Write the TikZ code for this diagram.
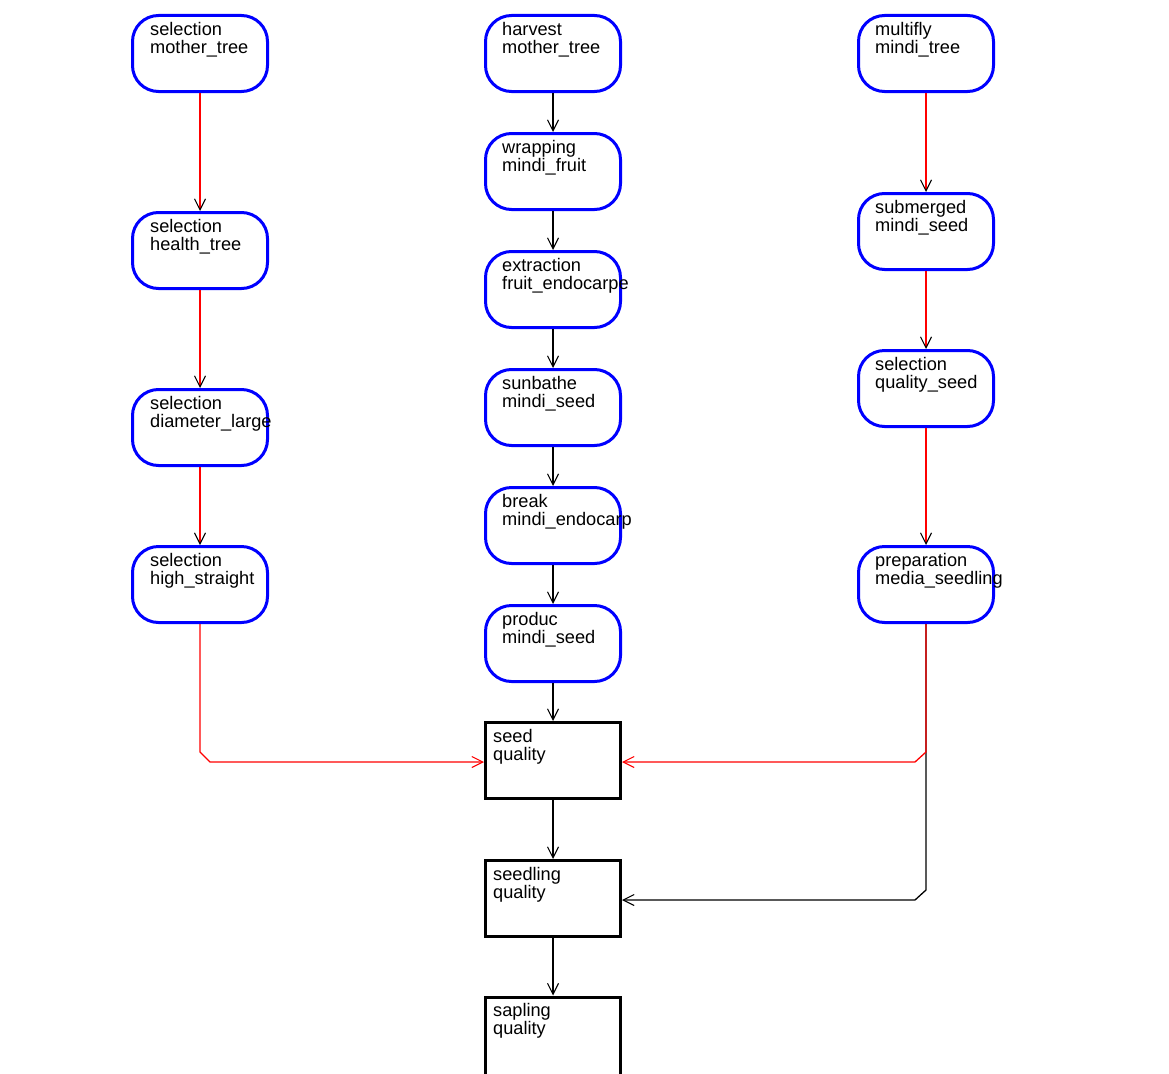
\documentclass[tikz,border=0pt]{standalone}
\usepackage{fontspec}
\setmainfont{Liberation Sans}
\usetikzlibrary{arrows.meta,calc}
\begin{document}
\begin{tikzpicture}[x=1pt,y=-1pt,
  rbox/.style={draw=blue, line width=3pt, rounded corners=26pt, minimum width=135pt, minimum height=76pt, inner sep=0pt},
  qbox/.style={draw=black, line width=3pt, minimum width=135pt, minimum height=76pt, inner sep=0pt},
  lbl/.style={anchor=north west, align=left, inner sep=0pt, font=\fontsize{18.2}{18}\selectfont},
  blk/.style={draw=black, line width=1.3pt, -{Straight Barb[length=11pt,width=11pt,line width=1.1pt]}},
  redv/.style={draw=red, line width=1.3pt, -{Straight Barb[length=11pt,width=11pt,line width=1.1pt,color=black]}},
  redh/.style={draw=red, line width=1.3pt, -{Straight Barb[length=11pt,width=11pt,line width=1.1pt]}}
]
\useasboundingbox (0,0) rectangle (1169,1073);
\fill[white] (0,0) rectangle (1169,1073);
\clip (0,0) rectangle (1169,1073);

% left column
\node[rbox] (L1) at (200,53.5) {};
\node[rbox] (L2) at (200,250.5) {};
\node[rbox] (L3) at (200,427.5) {};
\node[rbox] (L4) at (200,584.5) {};
% middle column
\node[rbox] (M1) at (553,53.5) {};
\node[rbox] (M2) at (553,171.5) {};
\node[rbox] (M3) at (553,289.5) {};
\node[rbox] (M4) at (553,407.5) {};
\node[rbox] (M5) at (553,525.5) {};
\node[rbox] (M6) at (553,643.5) {};
% right column
\node[rbox] (R1) at (926,53.5) {};
\node[rbox] (R2) at (926,231.5) {};
\node[rbox] (R3) at (926,388.5) {};
\node[rbox] (R4) at (926,584.5) {};
% quality boxes
\node[qbox] (Q1) at (553,760.5) {};
\node[qbox] (Q2) at (553,898.5) {};
\node[qbox, minimum height=90pt] (Q3) at (553,1042) {};

% coordinates for bends
\coordinate (lb) at (L4.south |- 0,752);
\coordinate (rb) at (R4.south |- 0,752);
\coordinate (rb2) at (R4.south |- 0,890);

% connectors
\draw[redv] (L1.south) -- (L2.north);
\draw[redv] (L2.south) -- (L3.north);
\draw[redv] (L3.south) -- (L4.north);
\draw[redv] (R1.south) -- (R2.north);
\draw[redv] (R2.south) -- (R3.north);
\draw[redv] (R3.south) -- (R4.north);
\draw[blk] (M1.south) -- (M2.north);
\draw[blk] (M2.south) -- (M3.north);
\draw[blk] (M3.south) -- (M4.north);
\draw[blk] (M4.south) -- (M5.north);
\draw[blk] (M5.south) -- (M6.north);
\draw[blk] (M6.south) -- (Q1.north);
\draw[blk] (Q1.south) -- (Q2.north);
\draw[blk] (Q2.south) -- (Q3.north);
\draw[blk] (R4.south) -- (rb2) -- ++(-11,10) -- (Q2.east |- 0,900);
\draw[redh] (L4.south) -- (lb) -- ++(10,10) -- (Q1.west |- 0,762);
\draw[redh] (R4.south) -- (rb) -- ++(-11,10) -- (Q1.east |- 0,762);

% labels
\node[lbl] (tL1) at ($(L1.north west)+(19,8)$) {selection\\mother\_tree};
\node[lbl] (tL2) at ($(L2.north west)+(19,8)$) {selection\\health\_tree};
\node[lbl] (tL3) at ($(L3.north west)+(19,8)$) {selection\\diameter\_large};
\node[lbl] (tL4) at ($(L4.north west)+(19,8)$) {selection\\high\_straight};
\node[lbl] (tM1) at ($(M1.north west)+(18,8)$) {harvest\\mother\_tree};
\node[lbl] (tM2) at ($(M2.north west)+(18,8)$) {wrapping\\mindi\_fruit};
\node[lbl] (tM3) at ($(M3.north west)+(18,8)$) {extraction\\fruit\_endocarpe};
\node[lbl] (tM4) at ($(M4.north west)+(18,8)$) {sunbathe\\mindi\_seed};
\node[lbl] (tM5) at ($(M5.north west)+(18,8)$) {break\\mindi\_endocarp};
\node[lbl] (tM6) at ($(M6.north west)+(18,8)$) {produc\\mindi\_seed};
\node[lbl] (tR1) at ($(R1.north west)+(18,8)$) {multifly\\mindi\_tree};
\node[lbl] (tR2) at ($(R2.north west)+(18,8)$) {submerged\\mindi\_seed};
\node[lbl] (tR3) at ($(R3.north west)+(18,8)$) {selection\\quality\_seed};
\node[lbl] (tR4) at ($(R4.north west)+(18,8)$) {preparation\\media\_seedling};
\node[lbl] (tQ1) at ($(Q1.north west)+(9,8)$) {seed\\quality};
\node[lbl] (tQ2) at ($(Q2.north west)+(9,8)$) {seedling\\quality};
\node[lbl] (tQ3) at ($(Q3.north west)+(9,8)$) {sapling\\quality};
\end{tikzpicture}
\end{document}
